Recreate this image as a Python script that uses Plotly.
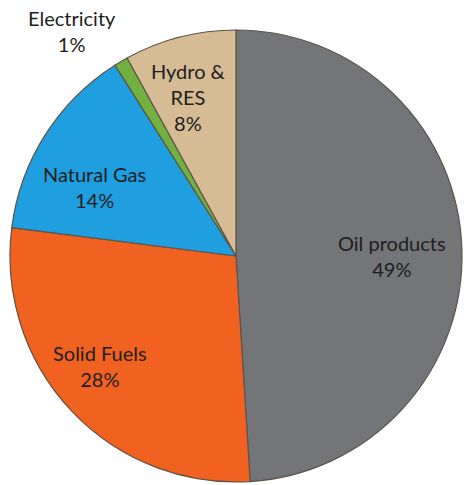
import plotly.graph_objects as go

labels = ["Oil products", "Solid Fuels", "Natural Gas", "Electricity", "Hydro &<br>RES"]
values = [49, 28, 14, 1, 8]
colors = ["#747578", "#f1611f", "#1f9fe0", "#72b040", "#d5bc95"]

# label anchor positions (paper coords of the plot area), style only
label_x = [0.845, 0.199, 0.188, 0.137, 0.396]
label_y = [0.500, 0.256, 0.652, 0.998, 0.852]

fig = go.Figure(go.Pie(
    labels=labels,
    values=values,
    sort=False,
    direction="clockwise",
    rotation=0,
    marker=dict(colors=colors, line=dict(color="#5e5348", width=1.2)),
    textinfo="none",
    showlegend=False,
    hoverinfo="label+percent",
))

total = sum(values)
for lab, v, x, y in zip(labels, values, label_x, label_y):
    fig.add_annotation(
        x=x, y=y, xref="paper", yref="paper",
        text=f"{lab}<br>{round(100 * v / total)}%",
        showarrow=False, xanchor="center", yanchor="middle", align="center",
        font=dict(family="Lato, Open Sans, sans-serif", size=20, color="#1e1e1e"),
    )

fig.update_layout(
    width=464, height=485,
    margin=dict(l=10, r=2, t=30, b=3),
    paper_bgcolor="white",
    plot_bgcolor="white",
)

fig.write_html("out.html", config={"displayModeBar": False},
               post_script="document.body.style.margin='0';")
